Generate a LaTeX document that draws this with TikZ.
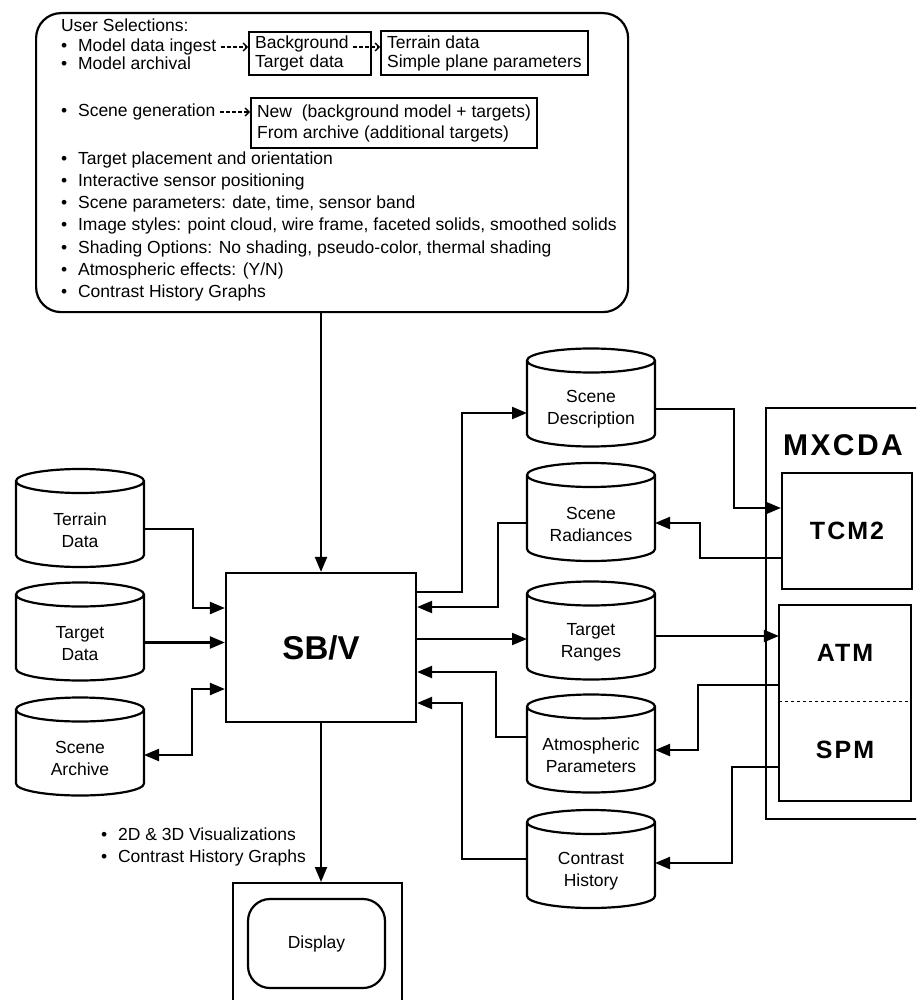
\documentclass[tikz,border=0pt]{standalone}
\usepackage{fontspec}
\setmainfont{Liberation Sans}
\newfontfamily\widebold[LetterSpace=8]{Liberation Sans Bold}
\usetikzlibrary{arrows.meta}

\begin{document}
\begin{tikzpicture}[x=1pt,y=-1pt,line width=2.2pt,
  txt/.style={font=\fontsize{17.5}{20}\selectfont, inner sep=0pt},
  item/.style={txt, anchor=base west},
  selbox/.style={draw, anchor=north west, align=left, inner xsep=6pt, inner ysep=0pt, font=\fontsize{17.5}{19}\selectfont},
  selarrow/.style={line width=1.3pt, dash pattern=on 4pt off 2pt, -{Straight Barb[length=4pt,width=8pt]}},
  dbase/.style={minimum width=128pt, minimum height=98pt, inner sep=0pt, outer sep=0pt},
  dbtext/.style={align=center, inner sep=0pt, yshift=-12pt, font=\fontsize{17.5}{22}\selectfont},
  unit/.style={minimum width=130pt, font=\widebold\fontsize{25}{30}\selectfont},
  link/.style={-{Triangle[length=15pt,width=12pt]}},
  link2/.style={{Triangle[length=15pt,width=12pt]}-{Triangle[length=15pt,width=12pt]}}]

\clip (0,0) rectangle (916,1000);

% user selections
\node[draw, rounded corners=25pt, minimum width=592pt, minimum height=299pt, anchor=north west] (usel) at (35,12) {};
\node[item] (title) at (60,32) {User Selections:};
\node[item] (ingest) at (60,52) {\makebox[17pt][l]{\textbullet}Model data ingest};
\node[item] (archival) at (60,70) {\makebox[17pt][l]{\textbullet}Model archival};
\node[item] (scenegen) at (60,117) {\makebox[17pt][l]{\textbullet}Scene generation};
\node[item] (placement) at (60,165) {\makebox[17pt][l]{\textbullet}Target placement and orientation};
\node[item] (sensor) at (60,187) {\makebox[17pt][l]{\textbullet}Interactive sensor positioning};
\node[item] (params) at (60,209) {\makebox[17pt][l]{\textbullet}Scene parameters: date, time, sensor band};
\node[item] (styles) at (60,231) {\makebox[17pt][l]{\textbullet}Image styles: point cloud, wire frame, faceted solids, smoothed solids};
\node[item] (shading) at (60,253) {\makebox[17pt][l]{\textbullet}Shading Options: No shading, pseudo-color, thermal shading};
\node[item] (atmeff) at (60,275) {\makebox[17pt][l]{\textbullet}Atmospheric effects: (Y/N)};
\node[item] (chgraphs) at (60,297) {\makebox[17pt][l]{\textbullet}Contrast History Graphs};

\node[selbox, minimum width=122pt, minimum height=43pt, text width=110pt] (bgbox) at (248,31) {Background\\Target data};
\node[selbox, minimum height=44pt] (tpbox) at (380,30) {Terrain data\\Simple plane parameters};
\node[selbox, minimum height=50pt, font=\fontsize{17.5}{21}\selectfont] (newbox) at (250,97) {New\ \ (background model + targets)\\From archive (additional targets)};

\draw[selarrow] ([xshift=4,yshift=5]ingest.base east) -- ([yshift=5]ingest.base east -| bgbox.west);
\draw[selarrow] ([yshift=5]ingest.base -| bgbox.east) ++(-19,0) -- ([yshift=5]ingest.base -| tpbox.west);
\draw[selarrow] ([xshift=4,yshift=5]scenegen.base east) -- ([yshift=5]scenegen.base east -| newbox.west);

% simulation
\node[draw, minimum width=190pt, minimum height=149pt, font=\bfseries\fontsize{33}{36}\selectfont] (sbv) at (321,647.5) {SB/V};

\node[dbase, label={[dbtext]center:Terrain\\Data}] (terrain) at (80,518) {};
\node[dbase, label={[dbtext]center:Target\\Data}] (tgtdata) at (80,631.5) {};
\node[dbase, label={[dbtext]center:Scene\\Archive}] (archive) at (80,746.5) {};

\node[dbase, label={[dbtext]center:Scene\\Description}] (scdesc) at (591,397.5) {};
\node[dbase, label={[dbtext]center:Scene\\Radiances}] (scrad) at (591,512) {};
\node[dbase, label={[dbtext]center:Target\\Ranges}] (tgtrng) at (591,630.5) {};
\node[dbase, label={[dbtext]center:Atmospheric\\Parameters}] (atmpar) at (591,743.5) {};
\node[dbase, label={[dbtext]center:Contrast\\History}] (conhist) at (591,859) {};

% cylinder outlines
\foreach \db in {terrain,tgtdata,archive,scdesc,scrad,tgtrng,atmpar,conhist}
  \draw ([yshift=-12pt]\db.north west) -- ([yshift=12pt]\db.south west)
    arc[start angle=180, end angle=360, x radius=64pt, y radius=12pt]
    -- ([yshift=-12pt]\db.north east)
    arc[start angle=0, end angle=360, x radius=64pt, y radius=12pt];

\node[draw, anchor=north west, minimum width=170pt, minimum height=411pt] (mxcda) at (765,407) {};
\node[txt, font=\widebold\fontsize{30}{30}\selectfont] (mxtitle) at (843,445) {MXCDA};
\node[unit, draw, minimum height=116pt] (tcm) at (847,531) {TCM2};
\node[unit, minimum height=94pt] (atm) at (845,653) {ATM};
\node[unit, minimum height=100pt] (spm) at (845,750) {SPM};
\draw (atm.north west) rectangle (spm.south east);
\draw[dashed, line width=1.2pt] (atm.south west) -- (atm.south east);

\node[item] (vis) at (100,840) {\makebox[17pt][l]{\textbullet}2D \& 3D Visualizations};
\node[item] (graphs) at (100,862) {\makebox[17pt][l]{\textbullet}Contrast History Graphs};

\node[draw, minimum width=169pt, minimum height=140pt, anchor=north] (dispbox) at (317.5,882) {};
\node[txt, draw, rounded corners=22pt, minimum width=137pt, minimum height=89pt] (disp) at (316.5,943.5) {Display};

% connectors
\draw[link] (usel.south -| sbv.north) -- (sbv.north);
\draw[link] (sbv.south) -- (sbv.south |- dispbox.north);

\draw[link] ([yshift=-11]terrain.east) -| ([xshift=-32,yshift=39.5]sbv.west) -- ([yshift=39.5]sbv.west);
\draw[link] ([yshift=-11]tgtdata.east) -- ([yshift=-11]tgtdata.east -| sbv.west);
\draw[link2] ([yshift=-8.5]archive.east) -| ([xshift=-33,yshift=-41.5]sbv.west) -- ([yshift=-41.5]sbv.west);

\draw[link] ([yshift=55.5]sbv.east) -| ([xshift=-65,yshift=-15.5]scdesc.west) -- ([yshift=-15.5]scdesc.west);
\draw[link] ([yshift=-11]scrad.west) -| ([xshift=81,yshift=40.5]sbv.east) -- ([yshift=40.5]sbv.east);
\draw[link] ([yshift=-8.5]tgtrng.west -| sbv.east) -- ([yshift=-8.5]tgtrng.west);
\draw[link] ([yshift=6.5]atmpar.west) -| ([xshift=79,yshift=-24.5]sbv.east) -- ([yshift=-24.5]sbv.east);
\draw[link] (conhist.west) -| ([xshift=45,yshift=-55.5]sbv.east) -- ([yshift=-55.5]sbv.east);

\draw[link] ([yshift=-11.5]scdesc.east) -| ([xshift=-47,yshift=23]tcm.west) -- ([yshift=23]tcm.west);
\draw[link] ([yshift=-27]tcm.west) -| ([xshift=45,yshift=-11]scrad.east) -- ([yshift=-11]scrad.east);
\draw[link] ([yshift=-5.5]tgtrng.east) -- ([yshift=-5.5]tgtrng.east -| atm.west);
\draw[link] ([yshift=-32]atm.west) -| ([xshift=43,yshift=-6.5]atmpar.east) -- ([yshift=-6.5]atmpar.east);
\draw[link] ([yshift=-17]spm.west) -| ([xshift=77,yshift=-4]conhist.east) -- ([yshift=-4]conhist.east);
\end{tikzpicture}
\end{document}
